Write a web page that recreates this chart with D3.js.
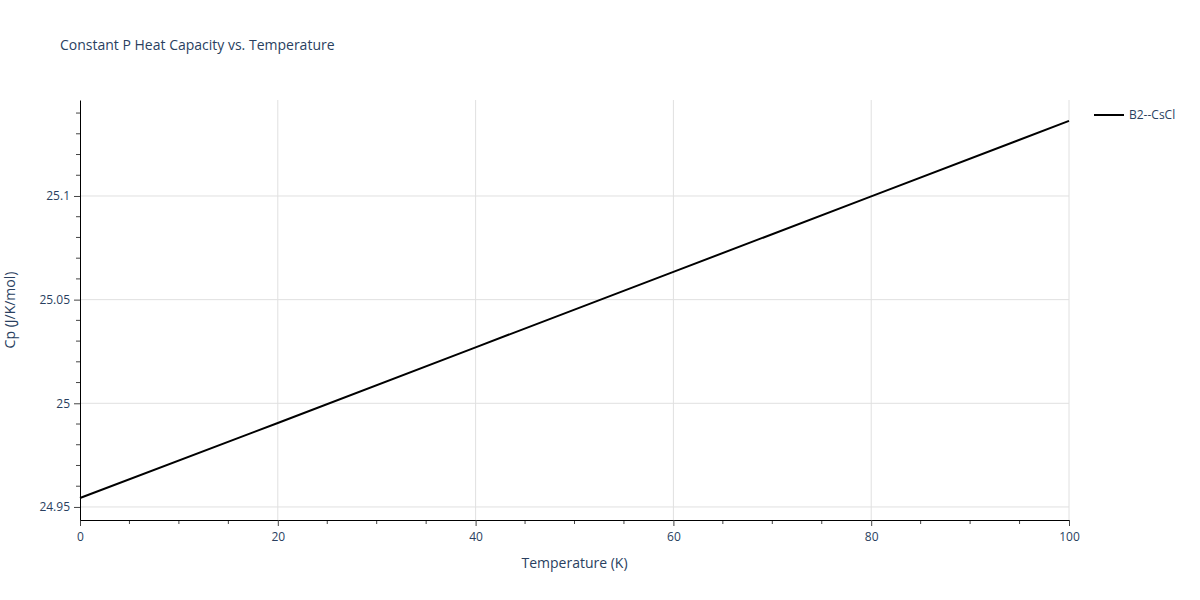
<!DOCTYPE html>
<html lang="en">
<head>
<meta charset="UTF-8">
<title>Cp vs T</title>
<script src="https://cdn.jsdelivr.net/npm/d3@7"></script>
<style>
  body { margin: 0; background: #fff; }
  text { font-family: "Open Sans", "DejaVu Sans", sans-serif; fill: #2a3f5f; }
</style>
</head>
<body>
<script>
var seriesName = "B2--CsCl";
var temps = [0, 20, 40, 60, 80, 100];
var cpValues = [24.9543, 24.9905, 25.0270, 25.0634, 25.0998, 25.1362];
var xTicks = [0, 20, 40, 60, 80, 100];
var yTicks = [24.95, 25, 25.05, 25.1];

var width = 1200, height = 600;
var pLeft = 80, pRight = 1069, pTop = 100, pBottom = 520;

var svg = d3.select("body").append("svg").attr("width", width).attr("height", height);

var x = d3.scaleLinear().domain([0, 100]).range([pLeft, pRight]);
var y = d3.scaleLinear().domain([24.9437, 25.1463]).range([pBottom, pTop]);

// grid
svg.append("g").selectAll("line").data(xTicks.slice(1)).enter().append("line")
   .attr("x1", d => x(d)).attr("x2", d => x(d)).attr("y1", pTop).attr("y2", pBottom)
   .attr("stroke", "#e0e0e0");
svg.append("g").selectAll("line").data(yTicks).enter().append("line")
   .attr("x1", pLeft).attr("x2", pRight).attr("y1", d => y(d)).attr("y2", d => y(d))
   .attr("stroke", "#e0e0e0");

// minor ticks
var xMinor = d3.range(5, 100, 5).filter(d => d % 20 !== 0);
svg.append("g").selectAll("line").data(xMinor).enter().append("line")
   .attr("x1", d => x(d)).attr("x2", d => x(d)).attr("y1", pBottom).attr("y2", pBottom + 4)
   .attr("stroke", "#444");
var yMinor = d3.range(24.95, 25.146, 0.01).map(d => +d.toFixed(2)).filter(d => Math.round(d * 100) % 5 !== 0);
svg.append("g").selectAll("line").data(yMinor).enter().append("line")
   .attr("x1", pLeft - 4).attr("x2", pLeft).attr("y1", d => y(d)).attr("y2", d => y(d))
   .attr("stroke", "#444");

// axes
var xAxis = svg.append("g").attr("transform", "translate(0," + pBottom + ")")
   .call(d3.axisBottom(x).tickValues(xTicks).tickSize(6).tickPadding(6).tickSizeOuter(0));
var yAxis = svg.append("g").attr("transform", "translate(" + pLeft + ",0)")
   .call(d3.axisLeft(y).tickValues(yTicks).tickSize(6).tickPadding(4).tickSizeOuter(0).tickFormat(d3.format("")));
[xAxis, yAxis].forEach(function (a) {
  a.select(".domain").attr("stroke", "#000");
  a.selectAll(".tick line").attr("stroke", "#444");
  a.selectAll("text").attr("font-size", 12).style("fill", "#2a3f5f");
});

// line
var line = d3.line().x((d, i) => x(temps[i])).y(d => y(d));
svg.append("path").datum(cpValues).attr("d", line)
   .attr("fill", "none").attr("stroke", "#000").attr("stroke-width", 2);

// titles
svg.append("text").attr("x", 60).attr("y", 50).attr("font-size", 14).text("Constant P Heat Capacity vs. Temperature");
svg.append("text").attr("x", (pLeft + pRight) / 2).attr("y", 568).attr("text-anchor", "middle")
   .attr("font-size", 14).text("Temperature (K)");
svg.append("text").attr("transform", "translate(15," + (pTop + pBottom) / 2 + ") rotate(-90)")
   .attr("text-anchor", "middle").attr("font-size", 14).text("Cp (J/K/mol)");

// legend
svg.append("line").attr("x1", 1094).attr("x2", 1124).attr("y1", 115).attr("y2", 115)
   .attr("stroke", "#000").attr("stroke-width", 2);
svg.append("text").attr("x", 1129).attr("y", 119).attr("font-size", 12).text(seriesName);
</script>
</body>
</html>
